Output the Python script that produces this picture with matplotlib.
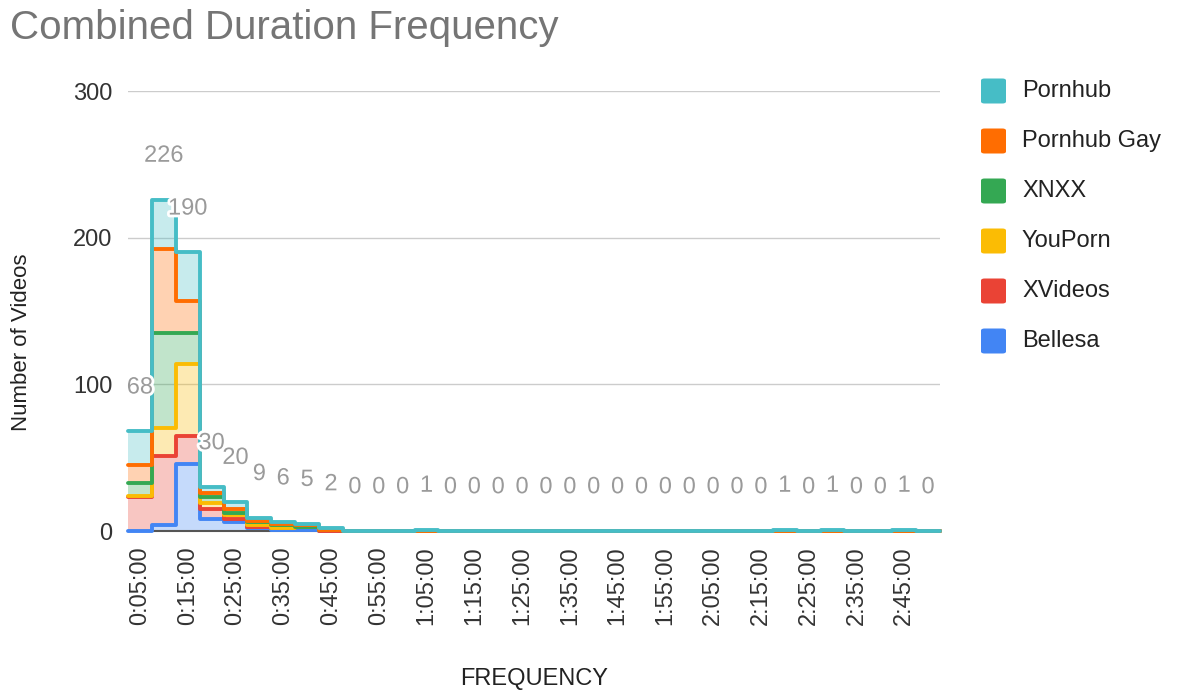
import numpy as np
import matplotlib
matplotlib.use("Agg")
import matplotlib.pyplot as plt
import matplotlib.patheffects as pe
from matplotlib.patches import FancyBboxPatch

plt.rcParams['font.family'] = ['Liberation Sans', 'DejaVu Sans']

categories = ["0:05:00", "0:10:00", "0:15:00", "0:20:00", "0:25:00", "0:30:00",
              "0:35:00", "0:40:00", "0:45:00", "0:50:00", "0:55:00", "1:00:00",
              "1:05:00", "1:10:00", "1:15:00", "1:20:00", "1:25:00", "1:30:00",
              "1:35:00", "1:40:00", "1:45:00", "1:50:00", "1:55:00", "2:00:00",
              "2:05:00", "2:10:00", "2:15:00", "2:20:00", "2:25:00", "2:30:00",
              "2:35:00", "2:40:00", "2:45:00", "2:50:00"]

# stacking order: bottom -> top
bellesa     = [0, 4, 46, 8, 6, 2, 1, 1, 0] + [0] * 25
xvideos     = [23, 47, 19, 7, 2, 1, 1, 2, 0] + [0] * 25
youporn     = [1, 19, 49, 4, 3, 1, 0, 0, 1] + [0] * 25
xnxx        = [9, 65, 21, 4, 1, 2, 2, 0, 0] + [0] * 25
pornhub_gay = [12, 57, 22, 3, 3, 1, 1, 1, 0] + [0] * 25
pornhub     = [23, 34, 33, 4, 5, 2, 1, 1, 1,
               0, 0, 0, 1, 0, 0, 0, 0, 0, 0, 0, 0, 0, 0, 0, 0, 0, 0,
               1, 0, 1, 0, 0, 1, 0]

series_names = ["Bellesa", "XVideos", "YouPorn", "XNXX", "Pornhub Gay", "Pornhub"]
series_vals = [bellesa, xvideos, youporn, xnxx, pornhub_gay, pornhub]
series_colors = ["#4285F4", "#EA4335", "#FBBC04", "#34A853", "#FF6D01", "#46BDC6"]

W, H = 1177, 692
fig = plt.figure(figsize=(W / 100, H / 100), dpi=100)
ax = fig.add_axes([128 / W, 1 - 531 / H, 812 / W, 440 / H])

n = len(categories)
edges = np.arange(n + 1)
data = np.array(series_vals, dtype=float)
cum = np.cumsum(data, axis=0)
totals = cum[-1]

# fills
prev = np.zeros(n)
for i, (vals, col) in enumerate(zip(cum, series_colors)):
    ax.stairs(vals, edges, baseline=prev.copy(), fill=True, color=col, alpha=0.3,
              lw=0, zorder=2)
    prev = vals
# lines
for i, (vals, col) in enumerate(zip(cum, series_colors)):
    st = ax.stairs(vals, edges, baseline=None, color=col, lw=2.8, zorder=4 + i)
    st.set_joinstyle('round')
    st.set_capstyle('round')
    st.set_clip_on(False)

# data labels
for i, t in enumerate(totals):
    ax.annotate(f"{int(t)}", (i + 0.5, t), xytext=(0, 31.5), textcoords='offset points',
                ha='center', va='center', fontsize=17, color='#9a9a9a', zorder=12,
                path_effects=[pe.withStroke(linewidth=4, foreground='white')])

ax.set_xlim(0, n)
ax.set_ylim(0, 300)
ax.set_yticks([0, 100, 200, 300])
ax.set_yticklabels(["0", "100", "200", "300"])
ax.grid(axis='y', color='#cccccc', lw=1, zorder=0)
ax.set_axisbelow(True)
for s in ax.spines.values():
    s.set_visible(False)
ax.axhline(0, color='#555555', lw=1.5, zorder=3, clip_on=False)

ticks = [i + 0.5 for i in range(0, n, 2)]
ax.set_xticks(ticks)
ax.set_xticklabels([categories[i] for i in range(0, n, 2)], rotation=90)
ax.tick_params(axis='x', length=0, pad=11, labelsize=17, labelcolor='#333333')
ax.tick_params(axis='y', length=0, pad=11, labelsize=17, labelcolor='#333333')

fig.text(10 / W, 1 - 39 / H, "Combined Duration Frequency", fontsize=29,
         color='#757575', ha='left', va='baseline')
fig.text(22 / W, 1 - 342 / H, "Number of Videos", rotation=90, fontsize=16,
         color='#222222', ha='center', va='center')
fig.text(534 / W, 1 - 679 / H, "FREQUENCY", fontsize=17, color='#222222',
         ha='center', va='center')

# legend (top series first)
for k, idx in enumerate(range(len(series_names) - 1, -1, -1)):
    yc = 91 + 50 * k
    box = FancyBboxPatch((981 / W, 1 - (yc + 12.5) / H), 25 / W, 25 / H,
                         boxstyle="round,pad=0,rounding_size=0.003",
                         transform=fig.transFigure, facecolor=series_colors[idx],
                         edgecolor='none')
    fig.patches.append(box)
    fig.text(1022 / W, 1 - yc / H, series_names[idx], fontsize=17, color='#222222',
             ha='left', va='center')

fig.savefig("out.png", dpi=100)
